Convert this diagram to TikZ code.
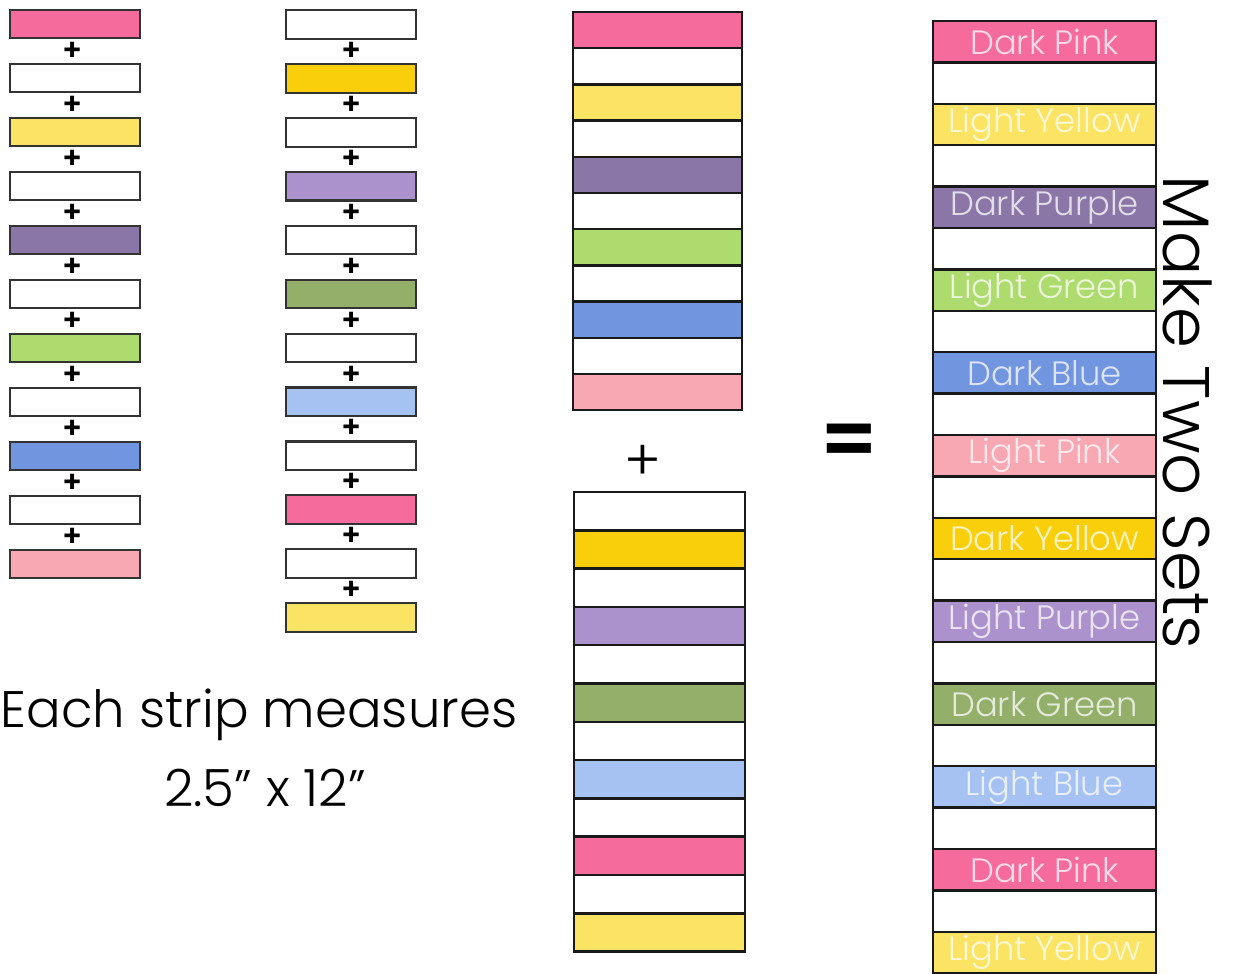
\documentclass[tikz,border=0pt]{standalone}
\usepackage{fontspec}
\setmainfont{Poppins}[UprightFont={* Light}, BoldFont={* SemiBold}]
\definecolor{darkpink}{HTML}{F56C9C}
\definecolor{lightyellow}{HTML}{FBE463}
\definecolor{darkpurple}{HTML}{8A77A8}
\definecolor{lightgreen}{HTML}{ADDB6E}
\definecolor{darkblue}{HTML}{7295E0}
\definecolor{lightpink}{HTML}{F7A8B2}
\definecolor{darkyellow}{HTML}{F9CE0A}
\definecolor{lightpurple}{HTML}{AC92CC}
\definecolor{darkgreen}{HTML}{94AF6A}
\definecolor{lightblue}{HTML}{A5C2F2}
\tikzset{
  smallstrip/.style={draw=black!80, line width=0.6pt, minimum width=1.3cm,
    minimum height=0.285cm, inner sep=0pt},
  band/.style 2 args={draw=black!90, line width=0.7pt, minimum width=#1,
    minimum height=#2, inner sep=0pt},
  plus/.style={font=\fontsize{8.5}{9}\selectfont\bfseries, inner sep=0pt},
  label/.style={font=\fontsize{9.6}{12}\selectfont},
  bigtext/.style={font=\fontsize{14.6}{18}\selectfont, inner sep=0pt}
}

\begin{document}
\begin{tikzpicture}[x=0.01cm, y=-0.01cm]
  \useasboundingbox (0,0) rectangle (1234,973);

  % first row of strips
  \foreach \col [count=\i] in {darkpink,white,lightyellow,white,darkpurple,white,
      lightgreen,white,darkblue,white,lightpink}
    \node[smallstrip, fill=\col] (a\i) at (75,{24+54*(\i-1)}) {};
  \foreach \i in {1,...,10}
    \node[plus] (pa\i) at (73,{51+54*(\i-1)}) {+};

  % second row of strips
  \foreach \col [count=\i] in {white,darkyellow,white,lightpurple,white,darkgreen,
      white,lightblue,white,darkpink,white,lightyellow}
    \node[smallstrip, fill=\col] (b\i) at (351,{24.5+53.9*(\i-1)}) {};
  \foreach \i in {1,...,11}
    \node[plus] (pb\i) at (352,{51.5+53.9*(\i-1)}) {+};

  % sewn together
  \foreach \col [count=\i] in {darkpink,white,lightyellow,white,darkpurple,white,
      lightgreen,white,darkblue,white,lightpink}
    \node[band={1.69cm}{0.362cm}, fill=\col] (c\i) at (657.5,{12+36.2*(\i-0.5)}) {};
  \node[plus, font=\fontsize{16}{16}\selectfont] (pc) at (643,463) {+};
  \foreach \col [count=\i] in {white,darkyellow,white,lightpurple,white,darkgreen,
      white,lightblue,white,darkpink,white,lightyellow}
    \node[band={1.71cm}{0.383cm}, fill=\col] (d\i) at (659.5,{492+38.3*(\i-0.5)}) {};

  \node[font=\fontsize{23}{23}\selectfont\bfseries, inner sep=0pt] (eq) at (849,446) {=};

  % finished block
  \foreach \i in {1,...,11}
    \node[band={2.23cm}{0.414cm}, fill=white] (w\i) at (1044.5,{21+41.4*(2*\i-0.5)}) {};
  \foreach \col/\txt [count=\i] in {darkpink/Dark Pink, lightyellow/Light Yellow,
      darkpurple/Dark Purple, lightgreen/Light Green, darkblue/Dark Blue,
      lightpink/Light Pink, darkyellow/Dark Yellow, lightpurple/Light Purple,
      darkgreen/Dark Green, lightblue/Light Blue, darkpink/Dark Pink,
      lightyellow/Light Yellow}
    \node[band={2.23cm}{0.414cm}, label, fill=\col, text=\col!25!white]
      (e\i) at (1044.5,{21+41.4*(2*\i-1.5)}) {\txt};

  \node[bigtext, rotate=-90, anchor=base west, font=\fontsize{18.7}{20}\selectfont]
    (sets) at (1163,175) {Make Two Sets};

  \node[bigtext, anchor=base] (each) at (259,727) {Each strip measures};
  \node[bigtext, anchor=base] (dims) at (265,806) {2.5" x 12"};
\end{tikzpicture}
\end{document}
